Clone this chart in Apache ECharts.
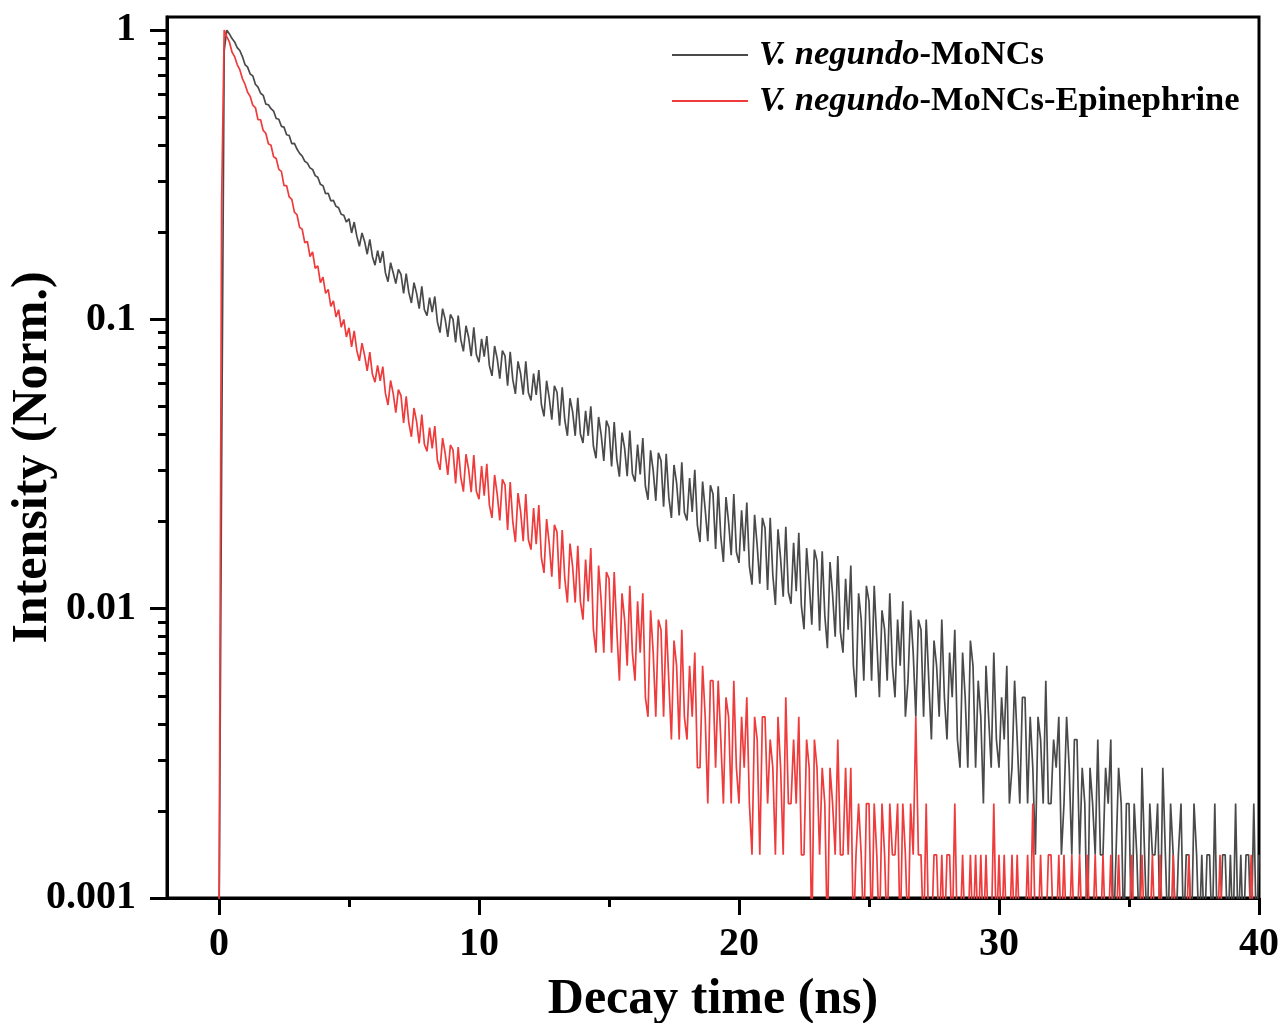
<!DOCTYPE html>
<html>
<head>
<meta charset="utf-8">
<script src="https://cdn.jsdelivr.net/npm/echarts@6/dist/echarts.min.js"></script>
<style>
html,body{margin:0;padding:0;background:#fff;}
#chart{width:1284px;height:1023px;}
</style>
</head>
<body>
<div id="chart"></div>
<script>
// ---- Data ----
const seriesNames = ['V. negundo-MoNCs', 'V. negundo-MoNCs-Epinephrine'];
const timeStart = 0;      // ns
const timeStep = 0.1;     // ns per channel (as sampled here)

// V. negundo-MoNCs (grey), t = 0 .. 40 ns
const greyValues = [
 .0007,.03,.85,1.0,.97,.935,.91,.87,.85,.81,
 .76,.745,.705,.695,.65,.635,.605,.595,.555,.552,
 .535,.525,.495,.492,.465,.462,.435,.432,.405,.406,
 .388,.375,.367,.352,.347,.334,.330,.314,.310,.293,
 .290,.272,.273,.257,.258,.246,.243,.231,.229,.217,
 .223,.199,.217,.194,.179,.199,.186,.168,.189,.165,
 .154,.173,.157,.172,.145,.135,.157,.145,.133,.149,
 .143,.123,.144,.124,.114,.134,.123,.109,.130,.108,
 .103,.119,.106,.120,.098,.090,.109,.100,.087,.104,
 .100,.0833,.103,.0851,.0775,.0951,.0868,.0746,.0938,.0755,
 .0711,.0856,.0744,.0876,.0692,.0638,.0809,.0732,.0624,.0780,
 .0748,.0590,.0773,.0619,.0553,.0716,.0650,.0549,.0717,.0558,
 .0525,.0650,.0548,.0668,.0508,.0462,.0614,.0536,.0450,.0589,
 .0560,.0429,.0582,.0449,.0396,.0534,.0480,.0396,.0536,.0402,
 .0374,.0483,.0396,.0501,.0365,.0331,.0460,.0399,.0324,.0447,
 .0422,.0310,.0442,.0329,.0286,.0406,.0359,.0287,.0413,.0293,
 .0275,.0369,.0291,.0389,.0265,.0238,.0353,.0300,.0236,.0346,
 .0325,.0225,.0343,.0243,.0206,.0314,.0272,.0210,.0321,.0215,
 .0202,.0283,.0216,.0302,.0194,.0170,.0275,.0220,.0171,.0267,
 .0249,.0161,.0265,.0178,.0145,.0243,.0199,.0153,.0249,.0157,
 .0144,.0219,.0158,.0233,.0140,.0121,.0211,.0165,.0122,.0206,
 .0190,.0116,.0206,.0131,.0103,.0188,.0149,.0110,.0192,.0114,
 .0104,.0169,.0115,.0183,.0102,.0085,.0162,.0123,.0088,.0160,
 .0146,.0084,.0158,.0095,.0073,.0145,.0112,.0080,.0152,.0083,
 .00705,.0127,.00846,.0141,.00635,.00494,.0113,.00917,.00564,.0120,
 .0106,.00564,.0120,.00776,.00494,.00987,.00846,.00564,.0113,.00635,
 .00494,.00917,.00635,.0106,.00423,.00564,.00987,.00705,.00423,.00917,
 .00846,.00423,.00917,.00564,.00353,.00776,.00635,.00423,.00917,.00494,
 .00353,.00705,.00494,.00846,.00353,.00282,.00705,.00494,.00282,.00776,
 .00635,.00282,.00564,.00423,.00212,.00635,.00423,.00282,.00705,.00353,
 .00282,.00494,.00353,.00635,.00212,.00282,.00564,.00353,.00212,.00494,
 .00494,.00212,.00423,.00282,.00141,.00423,.00353,.00212,.00564,.00212,
 .00212,.00353,.00282,.00423,.00141,.00212,.00423,.00282,.00141,.00353,
 .00353,.00141,.00282,.00212,.00071,.00282,.00212,.00141,.00353,.00141,
 .00141,.00282,.00212,.00353,.00071,.00141,.00282,.00212,.00071,.00212,
 .00212,.00071,.00212,.00141,.00071,.00282,.00141,.00071,.00212,.00141,
 .00141,.00212,.00071,.00282,.00141,.00071,.00212,.00141,.00071,.00141,
 .00212,.00071,.00141,.00141,.00071,.00212,.00141,.00071,.00141,.00071,
 .00141,.00141,.00071,.00212,.00071,.00071,.00141,.00141,.00071,.00141,
 .00071,.00212,.00071,.00141,.00071,.00141,.00141,.00071,.00212,.00071,
 .00141
];

// V. negundo-MoNCs-Epinephrine (red), t = 0 .. 40 ns
const redValues = [
 .0007,.25,1.0,.95,.91,.84,.81,.76,.73,.68,
 .65,.61,.59,.55,.54,.49,.49,.45,.44,.405,
 .40,.365,.36,.33,.325,.29,.29,.265,.26,.235,
 .23,.208,.205,.184,.186,.165,.171,.150,.153,.134,
 .140,.123,.127,.111,.116,.102,.108,.094,.100,.087,
 .0935,.0804,.0913,.0781,.0719,.0828,.0751,.0664,.0771,.0646,
 .0607,.0693,.0613,.0687,.0556,.0506,.0615,.0555,.0476,.0572,
 .0545,.0439,.0542,.0440,.0393,.0494,.0443,.0373,.0469,.0370,
 .0350,.0423,.0358,.0428,.0326,.0302,.0389,.0344,.0290,.0368,
 .0354,.0271,.0362,.0285,.0254,.0342,.0303,.0253,.0340,.0254,
 .0239,.0311,.0246,.0317,.0228,.0206,.0290,.0249,.0202,.0280,
 .0268,.0187,.0274,.0200,.0170,.0251,.0217,.0171,.0249,.0173,
 .0160,.0223,.0167,.0228,.0150,.0133,.0204,.0168,.0129,.0195,
 .0184,.0117,.0187,.0127,.0105,.0168,.0140,.0105,.0165,.0106,
 .00917,.0148,.0106,.0162,.00846,.00705,.0141,.0106,.00705,.0134,
 .0127,.00705,.0134,.00846,.00564,.0113,.00917,.00635,.0120,.00705,
 .00564,.0106,.00705,.0113,.00494,.00423,.00987,.00705,.00423,.00917,
 .00846,.00423,.00917,.00564,.00353,.00776,.00635,.00353,.00846,.00423,
 .00353,.00635,.00423,.00705,.00282,.00282,.00635,.00423,.00212,.00564,
 .00564,.00282,.00564,.00353,.00212,.00494,.00423,.00212,.00564,.00282,
 .00212,.00423,.00282,.00494,.00212,.00141,.00423,.00353,.00141,.00423,
 .00423,.00212,.00353,.00282,.00141,.00423,.00282,.00141,.00494,.00212,
 .00212,.00353,.00212,.00423,.00141,.00141,.00353,.00282,.00071,.00353,
 .00282,.00141,.00282,.00212,.00071,.00282,.00212,.00141,.00353,.00141,
 .00141,.00282,.00141,.00282,.00071,.00141,.00212,.00141,.00071,.00212,
 .00212,.00071,.00212,.00141,.00071,.00212,.00141,.00071,.00212,.00141,
 .00141,.00212,.00071,.00212,.00141,.00071,.00212,.00141,.00423,.00141,
 .00141,.00071,.00212,.00071,.00071,.00141,.00141,.00071,.00141,.00071,
 .00141,.00141,.00071,.00212,.00071,.00071,.00141,.00071,.00071,.00141,
 .00071,.00141,.00071,.00141,.00071,.00141,.00071,.00071,.00212,.00071,
 .00141,.00071,.00141,.00071,.00071,.00141,.00071,.00141,.00071,.00071,
 .00071,.00141,.00071,.00212,.00071,.00071,.00141,.00071,.00071,.00141,
 .00141,.00071,.00071,.00141,.00071,.00141,.00071,.00071,.00141,.00071,
 .00071,.00141,.00071,.00071,.00141,.00071,.00071,.00141,.00071,.00071,
 .00141,.00071,.00071,.00141,.00071,.00071,.00141,.00071,.00071,.00071,
 .00071,.00141,.00071,.00071,.00071,.00141,.00071,.00071,.00071,.00141,
 .00071,.00071,.00141,.00071,.00071,.00071,.00071,.00141,.00071,.00071,
 .00071,.00071,.00071,.00141,.00071,.00071,.00071,.00071,.00071,.00071,
 .00071,.00071,.00071,.00071,.00071,.00141,.00071,.00071,.00071,.00071,
 .00071,.00071,.00071,.00071,.00071,.00071,.00071,.00141,.00071,.00071,
 .00071
];

// ---- Axis ticks ----
const xMajorTicks = [0, 10, 20, 30, 40];
const xMinorTicks = [5, 15, 25, 35];
const yMajorTicks = [0.001, 0.01, 0.1, 1];
const yMinorTicks = [0.002,0.003,0.004,0.005,0.006,0.007,0.008,0.009,
                     0.02,0.03,0.04,0.05,0.06,0.07,0.08,0.09,
                     0.2,0.3,0.4,0.5,0.6,0.7,0.8,0.9];
const xRange = [-2, 40];
const yRange = [0.001, 1.11];

// ---- Build ----
const times = greyValues.map((_, i) => +(timeStart + i * timeStep).toFixed(1));
const greyData = times.map((t, i) => [t, greyValues[i]]);
const redData = times.map((t, i) => [t, redValues[i]]);

const FONT = "'Liberation Serif', 'Times New Roman', serif";
const chart = echarts.init(document.getElementById('chart'), null, {renderer: 'canvas'});

const option = {
  animation: false,
  backgroundColor: '#fff',
  grid: {left: 167, right: 25, top: 17, bottom: 125, show: true, borderColor: '#000', borderWidth: 3,
         containLabel: false, outerBoundsMode: 'none'},
  legend: {
    orient: 'vertical', left: 667, top: 30, itemGap: 6,
    icon: 'rect', itemWidth: 76, itemHeight: 2,
    data: seriesNames,
    formatter: function (name) {
      const k = name.indexOf('-');
      return '{i|' + name.slice(0, k) + '}{b|' + name.slice(k) + '}';
    },
    textStyle: {
      fontFamily: FONT, fontSize: 34.5, lineHeight: 40, color: '#000', padding: [0, 0, 0, 6],
      rich: {
        i: {fontFamily: FONT, fontSize: 34.5, fontStyle: 'italic', fontWeight: 'bold', color: '#000', lineHeight: 40},
        b: {fontFamily: FONT, fontSize: 34.5, fontWeight: 'bold', color: '#000', lineHeight: 40}
      }
    }
  },
  xAxis: [{
    type: 'value', min: xRange[0], max: xRange[1], position: 'bottom',
    name: 'Decay time (ns)', nameLocation: 'middle', nameGap: 77, nameMoveOverlap: false,
    nameTextStyle: {fontFamily: FONT, fontSize: 50, fontWeight: 'bold', color: '#000'},
    axisLine: {show: true, onZero: false, lineStyle: {color: '#000', width: 3}},
    axisTick: {show: true, inside: false, length: 17, lineStyle: {color: '#000', width: 3}, customValues: xMajorTicks},
    axisLabel: {customValues: xMajorTicks, margin: 27, fontFamily: FONT, fontSize: 40, fontWeight: 'bold', color: '#000'},
    splitLine: {show: false}
  }, {
    type: 'value', min: xRange[0], max: xRange[1], position: 'bottom',
    axisLine: {show: false, onZero: false},
    axisTick: {show: true, inside: false, length: 9, lineStyle: {color: '#000', width: 3}, customValues: xMinorTicks},
    axisLabel: {show: false},
    splitLine: {show: false}
  }],
  yAxis: [{
    type: 'log', logBase: 10, min: yRange[0], max: yRange[1], position: 'left',
    name: 'Intensity (Norm.)', nameLocation: 'middle', nameGap: 109, nameMoveOverlap: false,
    nameTextStyle: {fontFamily: FONT, fontSize: 50, fontWeight: 'bold', color: '#000'},
    axisLine: {show: true, onZero: false, lineStyle: {color: '#000', width: 3}},
    axisTick: {show: true, inside: false, length: 17, lineStyle: {color: '#000', width: 3}, customValues: yMajorTicks},
    axisLabel: {customValues: yMajorTicks, margin: 31, fontFamily: FONT, fontSize: 40, fontWeight: 'bold', color: '#000',
      formatter: function (v) { return String(+v.toPrecision(3)); }},
    splitLine: {show: false}
  }, {
    type: 'log', logBase: 10, min: yRange[0], max: yRange[1], position: 'left',
    axisLine: {show: false, onZero: false},
    axisTick: {show: true, inside: false, length: 9, lineStyle: {color: '#000', width: 3}, customValues: yMinorTicks},
    axisLabel: {show: false},
    splitLine: {show: false}
  }],
  series: [{
    name: seriesNames[0], type: 'line', xAxisIndex: 0, yAxisIndex: 0,
    data: greyData, symbol: 'none', clip: true, z: 3,
    lineStyle: {color: '#4a4a4a', width: 1.7},
    itemStyle: {color: '#4a4a4a'},
    emphasis: {disabled: true}
  }, {
    name: seriesNames[1], type: 'line', xAxisIndex: 0, yAxisIndex: 0,
    data: redData, symbol: 'none', clip: true, z: 4,
    lineStyle: {color: '#ef3b3b', width: 1.7},
    itemStyle: {color: '#ef3b3b'},
    emphasis: {disabled: true}
  }]
};
chart.setOption(option);
</script>
</body>
</html>
